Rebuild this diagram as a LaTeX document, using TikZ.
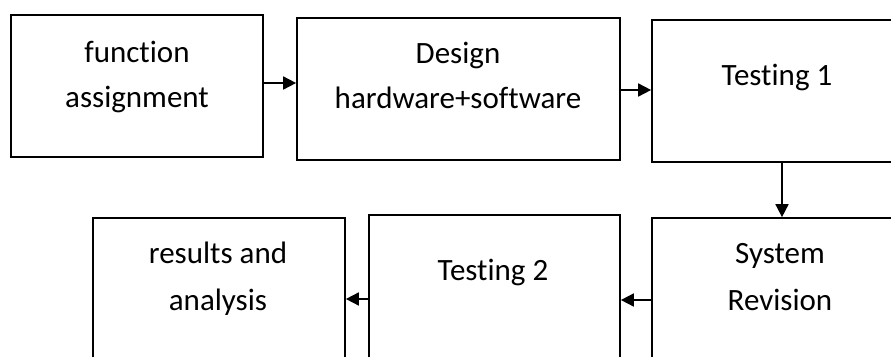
\documentclass[tikz,border=0pt]{standalone}
\usepackage{fontspec}
\setmainfont{Carlito}[Ligatures={NoCommon}]
\usetikzlibrary{arrows.meta}
\begin{document}
\begin{tikzpicture}[x=1pt,y=-1pt,
  stagebox/.style={draw=black,line width=1.7pt,inner sep=0pt,rectangle},
  caption/.style={font=\fontsize{31}{45}\selectfont,align=center,inner sep=0pt,anchor=base},
  flow/.style={line width=1.7pt,-{Triangle[length=13pt,width=13pt]}}]
\useasboundingbox (0,0) rectangle (891,356);
\clip (0,0) rectangle (891,356);
% stage boxes
\node[stagebox,minimum width=252pt,minimum height=142pt] (b1) at (137,86) {};
\node[stagebox,minimum width=323pt,minimum height=142pt] (b2) at (458.5,89) {};
\node[stagebox,minimum width=253pt,minimum height=142pt] (b3) at (778.5,91) {};
\node[stagebox,minimum width=253pt,minimum height=152pt] (b4) at (778.5,294) {};
\node[stagebox,minimum width=251pt,minimum height=155pt] (b5) at (494.5,292.5) {};
\node[stagebox,minimum width=252pt,minimum height=152pt] (b6) at (219,294) {};
% captions, placed by their baselines
\node[caption] (t1a) at (137,62) {function};
\node[caption] (t1b) at (137,107) {assignment};
\node[caption] (t2a) at (458,63) {Design};
\node[caption] (t2b) at (458,108) {hardware+software};
\node[caption] (t3) at (777,85) {Testing 1};
\node[caption] (t4a) at (780,263) {System};
\node[caption] (t4b) at (780,310) {Revision};
\node[caption] (t5) at (493,280) {Testing 2};
\node[caption] (t6a) at (218,263) {results and};
\node[caption] (t6b) at (218,310) {analysis};
% flow connectors
\draw[flow] (b1.east |- 0,83) -- (b2.west |- 0,83);
\draw[flow] (b2.east |- 0,90) -- (b3.west |- 0,90);
\draw[flow] (b3.south -| 782,0) -- (b4.north -| 782,0);
\draw[flow] (b4.west |- 0,300) -- (b5.east |- 0,300);
\draw[flow] (b5.west |- 0,299) -- (b6.east |- 0,299);
\end{tikzpicture}
\end{document}
